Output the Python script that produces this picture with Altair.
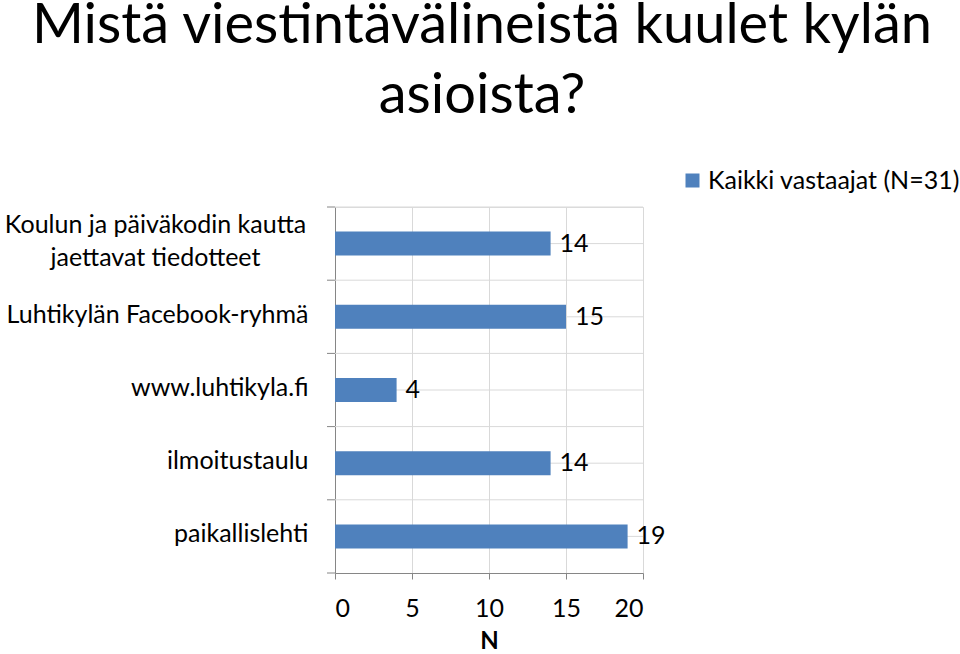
import altair as alt
import pandas as pd

categories = [
    "Koulun ja päiväkodin kautta|jaettavat tiedotteet",
    "Luhtikylän Facebook-ryhmä",
    "www.luhtikyla.fi",
    "ilmoitustaulu",
    "paikallislehti",
]
values = [14, 15, 4, 14, 19]
series_name = "Kaikki vastaajat (N=31)"
x_ticks = [0, 5, 10, 15, 20]
title_lines = ["Mistä viestintävälineistä kuulet kylän", "asioista?"]

TFONT = "Lato"
FONT = "Lato"
FS = 25
NFS = 25
W, H = 308, 366

df = pd.DataFrame({"cat": categories, "n": values, "series": series_name})
last_df = pd.DataFrame({"cat": [categories[-1]]})

ysc = alt.Scale(domain=categories, paddingInner=0, paddingOuter=0)
xsc = alt.Scale(domain=[0, 20])

multi = "indexof(datum.label, '|') >= 0"
y_axis = alt.Axis(
    labelExpr="split(datum.label, '|')",
    labelFont=FONT,
    labelFontSize=FS,
    labelColor="#000000",
    labelLineHeight=33,
    labelLimit=0,
    labelAlign={"condition": {"test": multi, "value": "center"}, "value": "right"},
    labelPadding={"condition": {"test": multi, "value": 180}, "value": 27},
    labelOffset={"condition": {"test": multi, "value": -19}, "value": -2},
    ticks=False,
    domainColor="#868686",
    grid=False,
)

base = alt.Chart(df)

# horizontal gridlines at band boundaries and band centers
grid_edges = base.mark_rule(color="#D9D9D9", strokeWidth=1).encode(
    y=alt.Y("cat:N", scale=ysc, sort=categories, bandPosition=0),
    x=alt.value(0), x2=alt.value(W),
)
grid_mid = base.mark_rule(color="#D9D9D9", strokeWidth=1).encode(
    y=alt.Y("cat:N", scale=ysc, sort=categories, bandPosition=0.5),
    x=alt.value(0), x2=alt.value(W),
)

bars = base.mark_bar(color="#4F81BD", height=24).encode(
    x=alt.X(
        "n:Q",
        scale=xsc,
        axis=alt.Axis(
            values=x_ticks,
            title="N",
            titleFont=FONT,
            titleFontSize=24,
            titleFontWeight="bold",
            titleColor="#000000",
            titlePadding=8,
            labelFont=FONT,
            labelFontSize=NFS,
            labelColor="#000000",
            labelPadding=17,
            tickSize=6,
            tickColor="#868686",
            domainColor="#868686",
            gridColor="#D9D9D9",
            grid=True,
        ),
    ),
    y=alt.Y("cat:N", scale=ysc, sort=categories, title=None, axis=y_axis),
    color=alt.Color(
        "series:N",
        scale=alt.Scale(range=["#4F81BD"]),
        legend=alt.Legend(
            title=None,
            orient="none",
            legendX=345,
            legendY=-39,
            symbolType="square",
            symbolSize=196,
            symbolStrokeWidth=0,
            labelFont=FONT,
            labelFontSize=FS,
            labelColor="#000000",
            labelLimit=0,
            labelOffset=3,
            padding=0,
        ),
    ),
)

ticks_left = base.mark_rule(color="#868686", strokeWidth=1).encode(
    y=alt.Y("cat:N", scale=ysc, sort=categories, bandPosition=0),
    x=alt.value(-8), x2=alt.value(0),
)
ticks_last = alt.Chart(last_df).mark_rule(color="#868686", strokeWidth=1).encode(
    y=alt.Y("cat:N", scale=ysc, sort=categories, bandPosition=1),
    x=alt.value(-8), x2=alt.value(0),
)

labels = base.mark_text(align="left", baseline="middle", dx=9, dy=0, font=FONT, fontSize=NFS, color="#000000").encode(
    x=alt.X("n:Q", scale=xsc),
    y=alt.Y("cat:N", scale=ysc, sort=categories),
    text="n:Q",
)

chart = alt.layer(grid_edges, grid_mid, bars, ticks_left, ticks_last, labels).properties(
    width=W,
    height=H,
    autosize=alt.AutoSizeParams(type="none"),
    padding={"left": 335, "top": 207, "right": 317, "bottom": 81},
    title=alt.TitleParams(
        text=title_lines,
        font=TFONT,
        fontSize=56,
        fontWeight="normal",
        color="#000000",
        anchor="middle",
        frame="group",
        dx=-7,
        offset=43,
        lineHeight=70,
    ),
).configure_view(stroke=None).configure(background="white")

chart.save("out.html", embed_options={"renderer": "svg", "actions": False})
